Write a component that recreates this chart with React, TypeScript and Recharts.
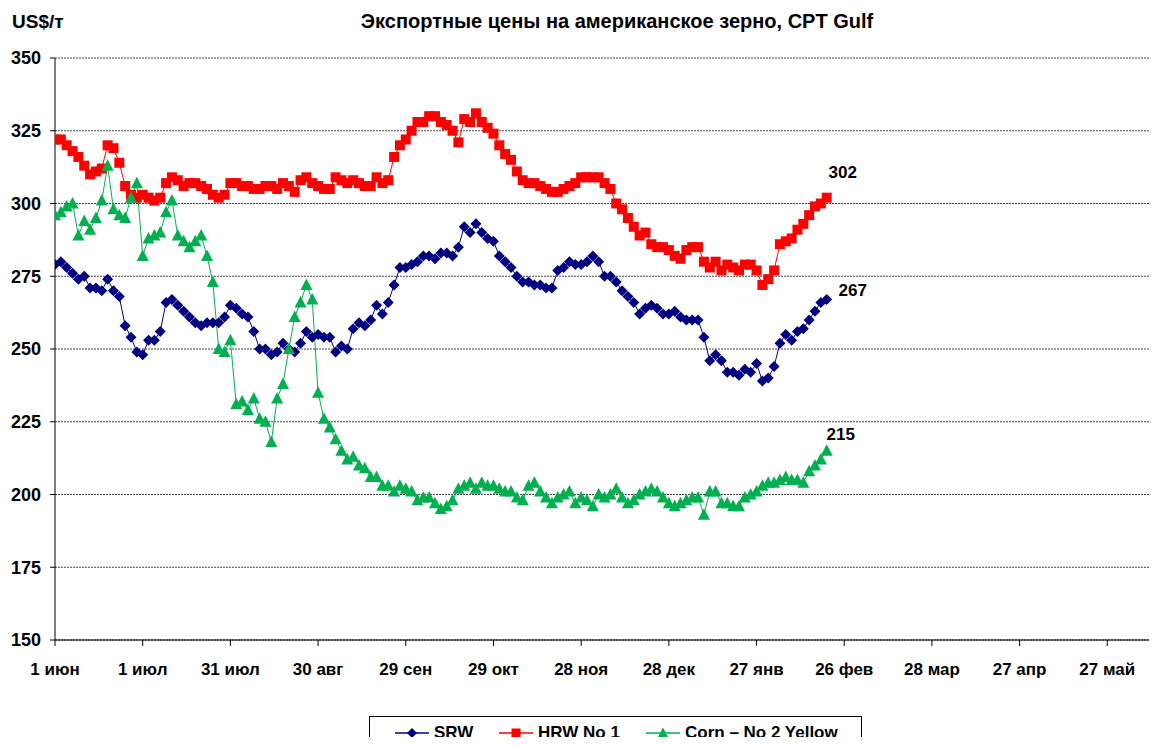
import { LineChart, Line, XAxis, YAxis, CartesianGrid, LabelList } from 'recharts';

// days counted from 1 June
const days = [
  0, 2, 4, 6, 8, 10, 12, 14, 16, 18, 20, 22, 24, 26, 28, 30, 32, 34, 36, 38,
  40, 42, 44, 46, 48, 50, 52, 54, 56, 58, 60, 62, 64, 66, 68, 70, 72, 74, 76, 78,
  80, 82, 84, 86, 88, 90, 92, 94, 96, 98, 100, 102, 104, 106, 108, 110, 112, 114, 116, 118,
  120, 122, 124, 126, 128, 130, 132, 134, 136, 138, 140, 142, 144, 146, 148, 150, 152, 154, 156, 158,
  160, 162, 164, 166, 168, 170, 172, 174, 176, 178, 180, 182, 184, 186, 188, 190, 192, 194, 196, 198,
  200, 202, 204, 206, 208, 210, 212, 214, 216, 218, 220, 222, 224, 226, 228, 230, 232, 234, 236, 238,
  240, 242, 244, 246, 248, 250, 252, 254, 256, 258, 260, 262, 264,
];

const srw = [
  279, 280, 278, 276, 274, 275, 271, 271, 270, 274,
  270, 268, 258, 254, 249, 248, 253, 253, 256, 266,
  267, 265, 263, 261, 259, 258, 259, 259, 259, 261,
  265, 264, 262, 261, 256, 250, 250, 248, 249, 252,
  250, 249, 252, 256, 254, 255, 254, 254, 249, 251,
  250, 257, 259, 258, 260, 265, 262, 266, 272, 278,
  278, 279, 280, 282, 282, 281, 283, 283, 282, 285,
  292, 290, 293, 290, 288, 287, 282, 280, 278, 275,
  273, 273, 272, 272, 271, 271, 277, 278, 280, 279,
  279, 280, 282, 280, 275, 275, 273, 270, 268, 266,
  262, 264, 265, 264, 262, 262, 263, 261, 260, 260,
  260, 254, 246, 248, 246, 242, 242, 241, 243, 242,
  245, 239, 240, 244, 252, 255, 253, 256, 257, 260,
  263, 266, 267,
];

const hrw = [
  322, 322, 320, 318, 316, 313, 310, 311, 312, 320,
  319, 314, 306, 303, 302, 303, 302, 301, 302, 307,
  309, 308, 306, 307, 307, 306, 305, 303, 302, 303,
  307, 307, 306, 306, 305, 305, 306, 306, 305, 307,
  306, 304, 308, 309, 307, 306, 305, 305, 309, 308,
  307, 308, 307, 306, 306, 309, 307, 308, 316, 320,
  322, 325, 328, 328, 330, 330, 328, 327, 325, 321,
  329, 328, 331, 328, 326, 324, 320, 317, 315, 311,
  308, 307, 307, 306, 305, 304, 304, 305, 306, 307,
  309, 309, 309, 309, 307, 305, 300, 298, 295, 292,
  289, 290, 286, 285, 285, 284, 282, 281, 284, 285,
  285, 280, 278, 280, 277, 279, 278, 277, 279, 279,
  277, 272, 274, 277, 286, 287, 288, 291, 293, 296,
  299, 300, 302,
];

const corn = [
  296, 297, 299, 300, 289, 294, 291, 295, 301, 313,
  298, 296, 295, 302, 307, 282, 288, 289, 290, 297,
  301, 289, 287, 285, 287, 289, 282, 273, 250, 249,
  253, 231, 232, 229, 233, 226, 225, 218, 233, 238,
  250, 261, 266, 272, 267, 235, 226, 223, 219, 215,
  212, 213, 210, 209, 206, 206, 203, 203, 201, 203,
  202, 201, 198, 199, 199, 197, 195, 196, 198, 202,
  203, 204, 202, 204, 203, 203, 202, 201, 201, 199,
  198, 203, 204, 201, 199, 197, 199, 200, 201, 197,
  199, 198, 196, 200, 199, 200, 202, 199, 197, 198,
  200, 201, 202, 201, 199, 197, 196, 197, 198, 199,
  199, 193, 201, 201, 197, 197, 196, 196, 199, 200,
  201, 203, 204, 204, 205, 206, 205, 205, 204, 208,
  210, 212, 215,
];

const tickDays = [0, 30, 60, 90, 120, 150, 180, 210, 240, 270, 300, 330, 360];
const tickLabels = ['1 июн', '1 июл', '31 июл', '30 авг', '29 сен', '29 окт', '28 ноя', '28 дек', '27 янв', '26 фев', '28 мар', '27 апр', '27 май'];
const yTicks = [150, 175, 200, 225, 250, 275, 300, 325, 350];

const FONT = '"Liberation Sans", Arial, sans-serif';
const NAVY = '#000080';
const RED = '#ff0000';
const GREEN = '#00b050';

const data = days.map((d, i) => ({ day: d, srw: srw[i], hrw: hrw[i], corn: corn[i] }));

const diamond = (p: any) => (
  <path key={`s${p.index}`} d={`M${p.cx},${p.cy - 5.5}L${p.cx + 5.5},${p.cy}L${p.cx},${p.cy + 5.5}L${p.cx - 5.5},${p.cy}Z`} fill={NAVY} />
);
const square = (p: any) => (
  <rect key={`h${p.index}`} x={p.cx - 5} y={p.cy - 5} width={10} height={10} fill={RED} />
);
const triangle = (p: any) => (
  <path key={`c${p.index}`} d={`M${p.cx},${p.cy - 6.5}L${p.cx + 6},${p.cy + 5}L${p.cx - 6},${p.cy + 5}Z`} fill={GREEN} />
);

const endLabel = (dx: number, dy: number) => (p: any) => {
  if (p.index !== days.length - 1) return null;
  return (
    <text x={p.x + dx} y={p.y + dy} textAnchor="middle" dominantBaseline="central"
      style={{ fontFamily: FONT, fontSize: 17, fontWeight: 700, fill: '#000' }}>
      {p.value}
    </text>
  );
};

function LegendItem({ left, color, shape, label }: { left: number; color: string; shape: 'd' | 's' | 't'; label: string }) {
  return (
    <div style={{ position: 'absolute', left, top: 724, height: 18, display: 'flex', alignItems: 'center', whiteSpace: 'nowrap', fontFamily: FONT, fontWeight: 700, fontSize: 17 }}>
      <svg width={34} height={14} style={{ marginRight: 5 }}>
        <line x1={0} y1={7} x2={34} y2={7} stroke={color} strokeWidth={1.5} />
        {shape === 'd' && <path d="M17,2L22,7L17,12L12,7Z" fill={color} />}
        {shape === 's' && <rect x={12.5} y={2.5} width={9} height={9} fill={color} />}
        {shape === 't' && <path d="M17,1.5L22.5,12L11.5,12Z" fill={color} />}
      </svg>
      {label}
    </div>
  );
}

export default function App() {
  const textStyle = { position: 'absolute' as const, fontFamily: FONT, fontWeight: 700, color: '#000', whiteSpace: 'nowrap' as const };
  return (
    <div style={{ position: 'relative', width: 1157, height: 745, margin: -8, overflow: 'hidden', background: '#fff' }}>
      <div style={{ ...textStyle, left: 12, top: 11, fontSize: 19 }}>US$/т</div>
      <div style={{ ...textStyle, left: 0, width: 1234, top: 10, fontSize: 20, textAlign: 'center' }}>
        Экспортные цены на американское зерно, CPT Gulf
      </div>
      <LineChart width={1157} height={745} data={data} margin={{ top: 58, right: 0, left: 0, bottom: 0 }}>
        <CartesianGrid horizontal vertical={false} stroke="#444" strokeDasharray="2 1" />
        <XAxis
          dataKey="day"
          type="number"
          domain={[0, 377]}
          ticks={tickDays}
          interval={0}
          tickFormatter={(v: number) => tickLabels[tickDays.indexOf(v)] ?? ''}
          height={105}
          tickSize={6}
          tickMargin={17}
          axisLine={{ stroke: '#000' }}
          tickLine={{ stroke: '#000' }}
          tick={{ fill: '#000', fontSize: 17, fontWeight: 700, fontFamily: FONT }}
          allowDataOverflow
        />
        <YAxis
          domain={[150, 350]}
          ticks={yTicks}
          interval={0}
          width={55}
          tickSize={5}
          tickMargin={9}
          axisLine={{ stroke: '#000' }}
          tickLine={{ stroke: '#000' }}
          tick={{ fill: '#000', fontSize: 18, fontWeight: 700, fontFamily: FONT }}
        />
        <Line type="linear" dataKey="srw" stroke={NAVY} strokeWidth={1} dot={diamond} activeDot={false} isAnimationActive={false}>
          <LabelList dataKey="srw" content={endLabel(26, -9)} />
        </Line>
        <Line type="linear" dataKey="hrw" stroke={RED} strokeWidth={1} dot={square} activeDot={false} isAnimationActive={false}>
          <LabelList dataKey="hrw" content={endLabel(16, -25)} />
        </Line>
        <Line type="linear" dataKey="corn" stroke={GREEN} strokeWidth={1} dot={triangle} activeDot={false} isAnimationActive={false}>
          <LabelList dataKey="corn" content={endLabel(14, -16)} />
        </Line>
      </LineChart>
      <div style={{ position: 'absolute', left: 369, top: 716, width: 493, height: 40, border: '1px solid #000', boxSizing: 'border-box' }} />
      <LegendItem left={395} color={NAVY} shape="d" label="SRW" />
      <LegendItem left={499} color={RED} shape="s" label="HRW No 1" />
      <LegendItem left={646} color={GREEN} shape="t" label="Corn – No 2 Yellow" />
    </div>
  );
}
